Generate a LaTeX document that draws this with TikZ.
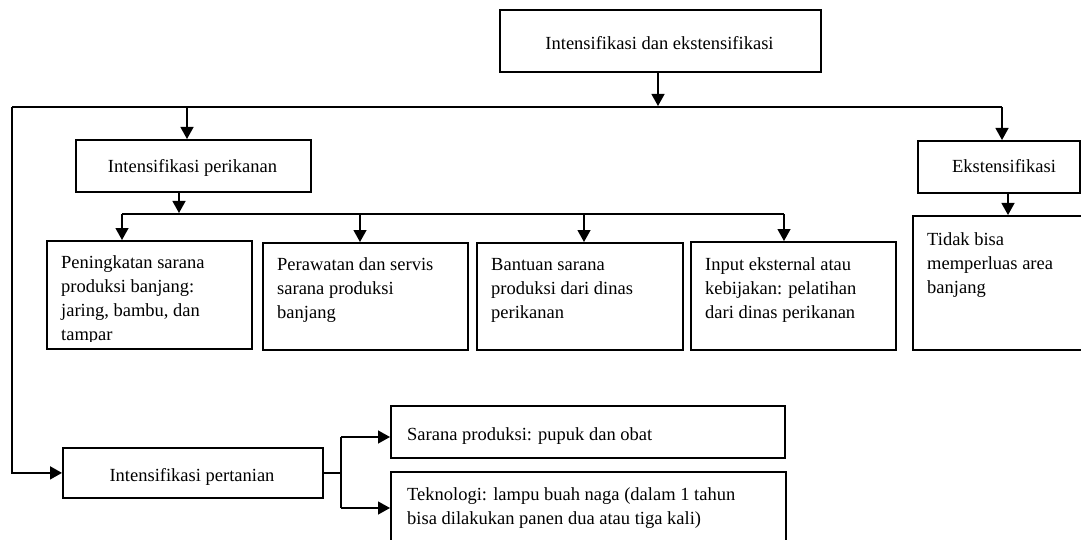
\documentclass[tikz,border=0pt]{standalone}
\usepackage{fontspec}
\setmainfont{Liberation Serif}
\usetikzlibrary{arrows.meta}
\begin{document}
\begin{tikzpicture}[x=1pt,y=-1pt,
  box/.style={draw, line width=1.8pt, rectangle, inner sep=0pt, anchor=north west},
  lbl/.style={inner sep=0pt, font=\fontsize{18.5}{24}\selectfont, align=left, anchor=base west},
  ctr/.style={inner sep=0pt, font=\fontsize{18.5}{24}\selectfont, anchor=base},
  link/.style={line width=1.3pt},
  bus/.style={line width=1.8pt},
  tip/.style={-{Triangle[width=13pt,length=12pt]}},
  arr/.style={link, tip}]
\useasboundingbox (0,0) rectangle (1081,540);

% boxes
\node[box, minimum width=321pt, minimum height=62pt] (top) at (499,9) {};
\node[box, minimum width=235pt, minimum height=52pt] (per) at (75,139) {};
\node[box, minimum width=162pt, minimum height=52pt] (eks) at (917,140) {};
\node[box, minimum width=205pt, minimum height=108pt] (b1) at (46,240) {};
\node[box, minimum width=205pt, minimum height=107pt] (b2) at (262,242) {};
\node[box, minimum width=206pt, minimum height=107pt] (b3) at (476,242) {};
\node[box, minimum width=205pt, minimum height=108pt] (b4) at (690,241) {};
\node[box, minimum width=180pt, minimum height=134pt] (tdk) at (912,215) {};
\node[box, minimum width=260pt, minimum height=50pt] (pert) at (62,447) {};
\node[box, minimum width=394pt, minimum height=52pt] (sar) at (390,405) {};
\node[box, minimum width=395pt, minimum height=90pt] (tek) at (390,471) {};

% labels (multi-line labels sit on the baseline of their last line)
\node[ctr] (ltop) at (659.5,50) {Intensifikasi dan ekstensifikasi};
\node[ctr] (lper) at (192.5,173) {Intensifikasi perikanan};
\node[ctr] (leks) at (1004,173) {Ekstensifikasi};
\node[ctr] (lpert) at (192,481) {Intensifikasi pertanian};
\begin{scope}
  \clip (46,240) rectangle (251,341);
  \node[lbl] (lb1) at (61,340) {Peningkatan sarana\\produksi banjang:\\jaring, bambu, dan\\tampar};
\end{scope}
\node[lbl] (lb2) at (277,318) {Perawatan dan servis\\sarana produksi\\banjang};
\node[lbl] (lb3) at (491,318) {Bantuan sarana\\produksi dari dinas\\perikanan};
\node[lbl] (lb4) at (705,318) {Input eksternal atau\\kebijakan: pelatihan\\dari dinas perikanan};
\node[lbl] (ltdk) at (927,293) {Tidak bisa\\memperluas area\\banjang};
\node[lbl] (lsar) at (407,440) {Sarana produksi: pupuk dan obat};
\node[lbl] (ltek) at (407,524) {Teknologi: lampu buah naga (dalam 1 tahun\\bisa dilakukan panen dua atau tiga kali)};

% main bus
\coordinate (j0) at (658,106);
\coordinate (busL) at (12,107);
\coordinate (busR) at (1002,107);
\coordinate (tp) at (187,107);
\draw[arr] (top.south -| j0) -- (j0);
\draw[bus] (busL) -- (busR);
\draw[arr] (busR) -- (busR |- eks.north);
\draw[arr] (tp) -- (tp |- per.north);
\draw[bus, tip] (busL) |- (pert.west);

% fisheries branch
\coordinate (j1) at (179,213);
\coordinate (t1) at (122,214);
\coordinate (t2) at (360,214);
\coordinate (t3) at (584,214);
\coordinate (t4) at (784,214);
\draw[arr] (per.south -| j1) -- (j1);
\draw[link] (t1) -- (t4);
\draw[arr] (t1) -- (t1 |- b1.north);
\draw[arr] (t2) -- (t2 |- b2.north);
\draw[arr] (t3) -- (t3 |- b3.north);
\draw[arr] (t4) -- (t4 |- b4.north);

% extensification branch
\coordinate (e1) at (1008,192);
\draw[arr] (e1) -- (e1 |- tdk.north);

% farming branch
\coordinate (ja) at (341,437);
\coordinate (jb) at (341,508);
\draw[link] (pert.east) -- (pert.east -| ja);
\draw[link] (ja) -- (jb);
\draw[arr] (ja) -- (ja -| sar.west);
\draw[arr] (jb) -- (jb -| tek.west);
\end{tikzpicture}
\end{document}
